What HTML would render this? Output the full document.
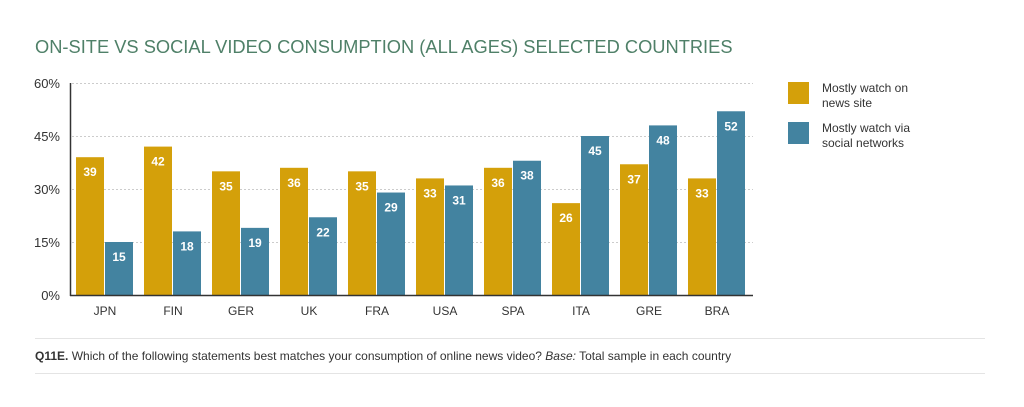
<!DOCTYPE html>
<html><head><meta charset="utf-8"><style>
body{margin:0;background:#fff;font-family:"Liberation Sans",sans-serif;}
#wrap{position:relative;width:1024px;height:407px;overflow:hidden;}
</style></head><body>
<div id="wrap">
<svg id="chart" width="1024" height="407">
<text x="35" y="53" font-size="18.3" fill="#4f8068">ON-SITE VS SOCIAL VIDEO CONSUMPTION (ALL AGES) SELECTED COUNTRIES</text>
<g id="grid"></g><g id="bars"></g><g id="labels"></g>
<line x1="70.5" y1="83" x2="70.5" y2="296" stroke="#333" stroke-width="1.5"/>
<line x1="70" y1="295.5" x2="753" y2="295.5" stroke="#333" stroke-width="1.5"/>
<rect x="788" y="82" width="21" height="22" fill="#d4a00a"/>
<text font-size="12" fill="#333"><tspan x="822" y="92">Mostly watch on</tspan><tspan x="822" y="107">news site</tspan></text>
<rect x="788" y="122" width="21" height="22" fill="#4383a0"/>
<text font-size="12" fill="#333"><tspan x="822" y="132">Mostly watch via</tspan><tspan x="822" y="147">social networks</tspan></text>
<line x1="35" y1="338.5" x2="985" y2="338.5" stroke="#e4e4e4"/>
<text x="35" y="360" font-size="12" fill="#333"><tspan font-weight="bold">Q11E.</tspan> Which of the following statements best matches your consumption of online news video? <tspan font-style="italic">Base:</tspan> Total sample in each country</text>
<line x1="35" y1="373.5" x2="985" y2="373.5" stroke="#e4e4e4"/>
</svg>
</div>
<script>
const categories=["JPN","FIN","GER","UK","FRA","USA","SPA","ITA","GRE","BRA"];
const newsSite=[39,42,35,36,35,33,36,26,37,33];
const social=[15,18,19,22,29,31,38,45,48,52];
const yTicks=[0,15,30,45,60];
const NS="http://www.w3.org/2000/svg";
const y0=295,yTop=83,yMax=60;
function y(v){return y0-(v/yMax)*(y0-yTop);}
function gx(i){return 76+i*68;}
function mk(tag,attrs,parent){const e=document.createElementNS(NS,tag);for(const k in attrs)e.setAttribute(k,attrs[k]);document.getElementById(parent).appendChild(e);return e;}
yTicks.forEach(t=>{
 if(t>0){const l=mk('line',{x1:72,x2:753,y1:y(t)+0.5,y2:y(t)+0.5,stroke:'#ccc','stroke-dasharray':'2,2'},'grid');
 
 }
 const tx=mk('text',{x:60,y:y(t)+5,'text-anchor':'end','font-size':13,fill:'#333'},'labels');tx.textContent=t+'%';
 
 
});
categories.forEach((c,i)=>{
 [[newsSite[i],'#d4a00a',0,'bar-news-site'],[social[i],'#4383a0',29,'bar-social']].forEach(([v,col,off,nm])=>{
  const r=mk('rect',{x:gx(i)+off,y:y(v),width:28,height:y0-y(v),fill:col},'bars');
  
  
  const t=mk('text',{x:gx(i)+off+14,y:y(v)+19,'text-anchor':'middle','font-size':12,'font-weight':'bold',fill:'#fff'},'labels');t.textContent=v;
  
  
 });
 const t=mk('text',{x:gx(i)+29,y:315,'text-anchor':'middle','font-size':12,fill:'#333'},'labels');t.textContent=c;
 
 
});
</script>
</body></html>
